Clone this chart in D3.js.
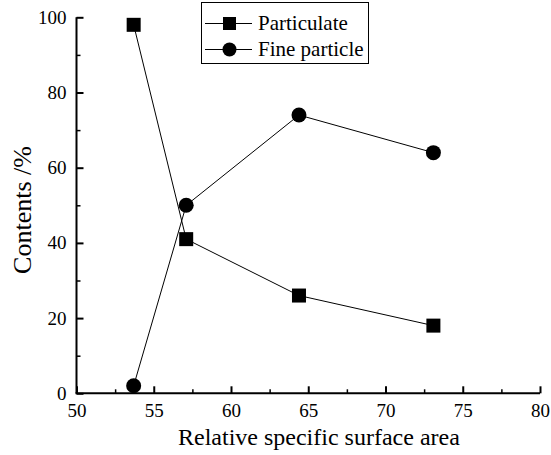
<!DOCTYPE html>
<html>
<head>
<meta charset="utf-8">
<script src="https://cdn.jsdelivr.net/npm/d3@7"></script>
</head>
<body style="margin:0; background:#fff">
<svg id="chart" width="551" height="455" style="font-family:'Liberation Serif'"></svg>
<script>
let serif = "Liberation Serif";

let xValues    = [53.7, 57.1, 64.4, 73.1];
let particulate  = [98, 41, 26, 18];
let fineParticle = [2, 50, 74, 64];
let seriesNames  = ["Particulate", "Fine particle"];
let xTicks = [50, 55, 60, 65, 70, 75, 80];
let yTicks = [0, 20, 40, 60, 80, 100];

let x = d3.scaleLinear().domain([50, 80]).range([76.5, 540]);
let y = d3.scaleLinear().domain([0, 100]).range([393.3, 17.3]);

let svg = d3.select("#chart");

// minor ticks, inward
svg.append("g")
    .attr("transform", translate(0, y(0)))
    .call(d3.axisBottom(x).tickValues(d3.range(52.5, 80, 5)).tickSize(-4).tickFormat(""))
    .call(g => g.select(".domain").remove())
    .selectAll("line").attr("stroke", "#000").attr("stroke-width", 1.5);
svg.append("g")
    .attr("transform", translate(x(50), 0))
    .call(d3.axisLeft(y).tickValues(d3.range(10, 100, 20)).tickSize(-4).tickFormat(""))
    .call(g => g.select(".domain").remove())
    .selectAll("line").attr("stroke", "#000").attr("stroke-width", 1.5);

let xAxis = svg.append("g")
    .attr("transform", translate(0, y(0)))
    .call(d3.axisBottom(x).tickValues(xTicks).tickSize(-7).tickSizeOuter(0).tickPadding(10));

let yAxis = svg.append("g")
    .attr("transform", translate(x(50), 0))
    .call(d3.axisLeft(y).tickValues(yTicks).tickSize(-7).tickSizeOuter(0).tickPadding(10));

[xAxis, yAxis].forEach(function(a) {
  a.attr("font-family", null).attr("font-size", 19);
  a.selectAll("path, line").attr("stroke", "#000").attr("stroke-width", 2);
  a.selectAll("text")
      .attr("fill", "#000")
      .attr("font-family", serif)
      .attr("font-size", 19);
});
xAxis.select(".domain").attr("d", "M" + (x(50) - 1) + ",0H" + x(80));
yAxis.select(".domain").attr("d", "M0," + y(0) + "V" + y(100));

svg.append("text")
    .attr("x", 178)
    .attr("y", 445)
    .attr("fill", "#000")
    .attr("font-family", serif)
    .attr("font-size", 24)
    .text("Relative specific surface area");

svg.append("text")
    .attr("transform", translate(31, 210) + " rotate(-90)")
    .attr("text-anchor", "middle")
    .attr("fill", "#000")
    .attr("font-family", serif)
    .attr("font-size", 26)
    .text("Contents /%");

let line = d3.line()
    .x(function(d) { return x(d[0]); })
    .y(function(d) { return y(d[1]); });

let p1 = xValues.map(function(v, i) { return [v, particulate[i]]; });
let p2 = xValues.map(function(v, i) { return [v, fineParticle[i]]; });

svg.append("path").attr("d", line(p1)).attr("fill", "none").attr("stroke", "#000").attr("stroke-width", 1);
svg.append("path").attr("d", line(p2)).attr("fill", "none").attr("stroke", "#000").attr("stroke-width", 1);

svg.selectAll(".sq")
    .data(p1)
    .enter()
  .append("rect")
    .attr("x", function(d) { return x(d[0]) - 7; })
    .attr("y", function(d) { return y(d[1]) - 7; })
    .attr("width", 14)
    .attr("height", 14)
    .attr("fill", "#000");

svg.selectAll(".ci")
    .data(p2)
    .enter()
  .append("circle")
    .attr("cx", function(d) { return x(d[0]); })
    .attr("cy", function(d) { return y(d[1]); })
    .attr("r", 7.5)
    .attr("fill", "#000");

// legend
let legend = svg.append("g");
legend.append("rect")
    .attr("x", 201.5).attr("y", 2.5)
    .attr("width", 167).attr("height", 61)
    .attr("fill", "#fff").attr("stroke", "#000").attr("stroke-width", 1);

seriesNames.forEach(function(name, i) {
  let cy = 23.5 + i * 26;
  legend.append("line")
      .attr("x1", 205).attr("x2", 252)
      .attr("y1", cy).attr("y2", cy)
      .attr("stroke", "#000").attr("stroke-width", 1);
  if (i === 0) {
    legend.append("rect").attr("x", 223).attr("y", cy - 6.5).attr("width", 13).attr("height", 13).attr("fill", "#000");
  } else {
    legend.append("circle").attr("cx", 229.5).attr("cy", cy).attr("r", 7).attr("fill", "#000");
  }
  legend.append("text")
      .attr("x", 258)
      .attr("y", cy + 6)
      .attr("fill", "#000")
      .attr("font-family", serif)
      .attr("font-size", 21)
      .text(name);
});

function translate(x, y=0) {
  return "translate({x}, {y})"
          .replace("{x}", x)
          .replace("{y}", y);
}
</script>
</body>
</html>
